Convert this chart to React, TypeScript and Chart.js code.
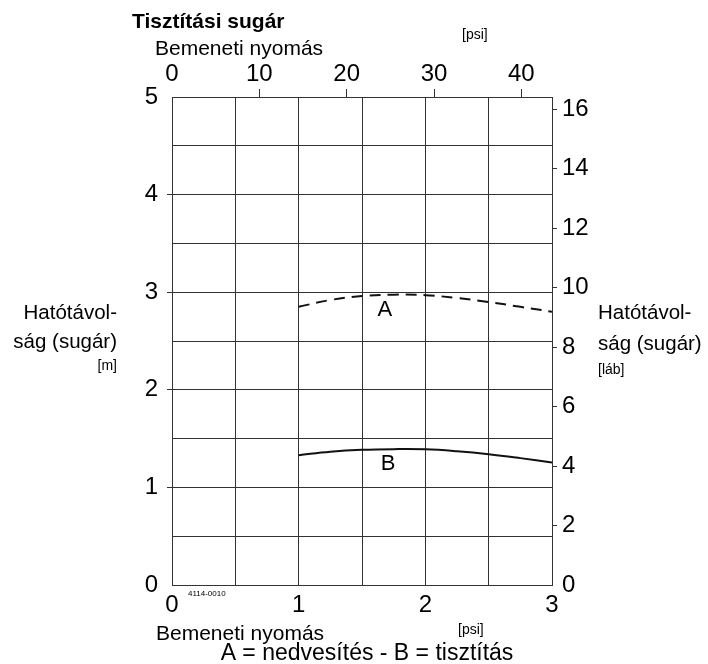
import React, { useEffect, useRef } from "react";
import { Chart, registerables } from "chart.js";

Chart.register(...registerables);

// Data
const pressureBar = [1.0, 1.25, 1.5, 1.75, 2.0, 2.25, 2.5, 2.75, 3.0];
const rangeA = [2.85, 2.92, 2.96, 2.975, 2.97, 2.94, 2.9, 2.85, 2.8]; // wetting (dashed)
const rangeB = [1.33, 1.365, 1.385, 1.392, 1.39, 1.37, 1.34, 1.3, 1.255]; // cleaning (solid)

const barMax = 3;
const meterMax = 5;
const PSI_PER_BAR = 14.5038;
const FT_PER_M = 3.28084;

const title = "Tisztítási sugár";
const pressureLabel = "Bemeneti nyomás";
const psiUnit = "[psi]";
const rangeLine1 = "Hatótávol-";
const rangeLine2 = "ság (sugár)";
const meterUnit = "[m]";
const footUnit = "[láb]";
const codeLabel = "4114-0010";
const legendText = "A = nedvesítés - B = tisztítás";
const curveLabelA = { text: "A", x: 1.68, y: 2.82 };
const curveLabelB = { text: "B", x: 1.705, y: 1.24 };

const FONT = "'Liberation Sans', Arial, Helvetica, sans-serif";
const GRID = "#333";

const textPlugin = {
  id: "texts",
  afterDraw(chart: any) {
    const ctx = chart.ctx;
    const xs = chart.scales.x;
    const ys = chart.scales.y;
    ctx.save();
    ctx.fillStyle = "#000";
    ctx.textBaseline = "alphabetic";
    ctx.textAlign = "left";
    ctx.font = `bold 21px ${FONT}`;
    ctx.fillText(title, 132, 28);
    ctx.font = `21px ${FONT}`;
    ctx.fillText(pressureLabel, 155, 55);
    ctx.fillText(pressureLabel, 156, 640);
    ctx.font = `14px ${FONT}`;
    ctx.fillText(psiUnit, 462, 39);
    ctx.fillText(psiUnit, 458, 634);
    ctx.font = `8px ${FONT}`;
    ctx.fillText(codeLabel, 188, 596);
    ctx.font = `23px ${FONT}`;
    ctx.textAlign = "center";
    ctx.fillText(legendText, 367, 660);

    // left axis title
    ctx.textAlign = "right";
    ctx.font = `20.5px ${FONT}`;
    ctx.fillText(rangeLine1, 117, 319);
    ctx.fillText(rangeLine2, 117, 348);
    ctx.font = `14px ${FONT}`;
    ctx.fillText(meterUnit, 117, 370);

    // right axis title
    ctx.textAlign = "left";
    ctx.font = `20.5px ${FONT}`;
    ctx.fillText(rangeLine1, 598, 319);
    ctx.fillText(rangeLine2, 598, 350);
    ctx.font = `14px ${FONT}`;
    ctx.fillText(footUnit, 598, 374);

    // curve labels
    ctx.font = `22px ${FONT}`;
    ctx.textAlign = "center";
    ctx.textBaseline = "middle";
    for (const l of [curveLabelA, curveLabelB]) {
      ctx.fillText(l.text, xs.getPixelForValue(l.x), ys.getPixelForValue(l.y));
    }
    ctx.restore();
  },
};

export default function App() {
  const ref = useRef<HTMLCanvasElement>(null);
  useEffect(() => {
    if (!ref.current) return;
    Chart.defaults.font.family = FONT;
    Chart.defaults.color = "#000";
    const isInt = (v: number) => Math.abs(v - Math.round(v)) < 1e-9;
    const chart = new Chart(ref.current, {
      type: "line",
      data: {
        datasets: [
          {
            label: "A",
            data: pressureBar.map((x, i) => ({ x, y: rangeA[i] })),
            borderColor: "#111",
            borderWidth: 2,
            borderDash: [11, 7],
            pointRadius: 0,
            tension: 0.4,
            xAxisID: "x",
            yAxisID: "y",
          },
          {
            label: "B",
            data: pressureBar.map((x, i) => ({ x, y: rangeB[i] })),
            borderColor: "#111",
            borderWidth: 2,
            pointRadius: 0,
            tension: 0.4,
            xAxisID: "x",
            yAxisID: "y",
          },
        ],
      },
      options: {
        animation: false,
        responsive: false,
        devicePixelRatio: 1,
        layout: { padding: 0 },
        plugins: { legend: { display: false }, tooltip: { enabled: false } },
        scales: {
          x: {
            type: "linear",
            position: "bottom",
            min: 0,
            max: barMax,
            afterFit: (s: any) => {
              s.height = 79;
            },
            border: { display: true, color: GRID, width: 1 },
            grid: { color: GRID, lineWidth: 1, drawTicks: false },
            ticks: {
              stepSize: 0.5,
              autoSkip: false,
              maxRotation: 0,
              padding: 6,
              font: { size: 24 },
              color: "#000",
              callback: (v: any) => (isInt(Number(v)) ? String(v) : ""),
            },
          },
          x2: {
            type: "linear",
            position: "top",
            min: 0,
            max: barMax * PSI_PER_BAR,
            afterFit: (s: any) => {
              s.height = 97;
            },
            border: { display: true, color: GRID, width: 1 },
            grid: {
              drawOnChartArea: false,
              tickLength: 8,
              tickColor: (c: any) => (c.tick && c.tick.value === 0 ? "rgba(0,0,0,0)" : GRID),
            },
            ticks: {
              stepSize: 10,
              includeBounds: false,
              autoSkip: false,
              maxRotation: 0,
              padding: 0,
              font: { size: 24 },
              color: "#000",
            },
          },
          y: {
            type: "linear",
            position: "left",
            min: 0,
            max: meterMax,
            afterFit: (s: any) => {
              s.width = 172;
            },
            border: { display: true, color: GRID, width: 1 },
            grid: {
              color: GRID,
              lineWidth: 1,
              tickLength: 5,
              tickColor: (c: any) => {
                const v = c.tick ? c.tick.value : 0;
                return isInt(v) && v > 0 && v < meterMax ? GRID : "rgba(0,0,0,0)";
              },
            },
            ticks: {
              stepSize: 0.5,
              autoSkip: false,
              padding: 9,
              font: { size: 24 },
              color: "#000",
              callback: (v: any) => (isInt(Number(v)) ? String(v) : ""),
            },
          },
          y2: {
            type: "linear",
            position: "right",
            min: 0,
            max: meterMax * FT_PER_M,
            afterFit: (s: any) => {
              s.width = 156;
            },
            border: { display: true, color: GRID, width: 1 },
            grid: {
              drawOnChartArea: false,
              tickLength: 5,
              tickColor: (c: any) => (c.tick && c.tick.value === 0 ? "rgba(0,0,0,0)" : GRID),
            },
            ticks: {
              stepSize: 2,
              includeBounds: false,
              autoSkip: false,
              padding: 5,
              font: { size: 24 },
              color: "#000",
            },
          },
        },
      },
      plugins: [textPlugin],
    } as any);
    return () => chart.destroy();
  }, []);

  return (
    <div style={{ position: "absolute", left: 0, top: 0, width: 708, height: 664, background: "#fff" }}>
      <canvas ref={ref} width={708} height={664} style={{ display: "block" }} />
    </div>
  );
}
